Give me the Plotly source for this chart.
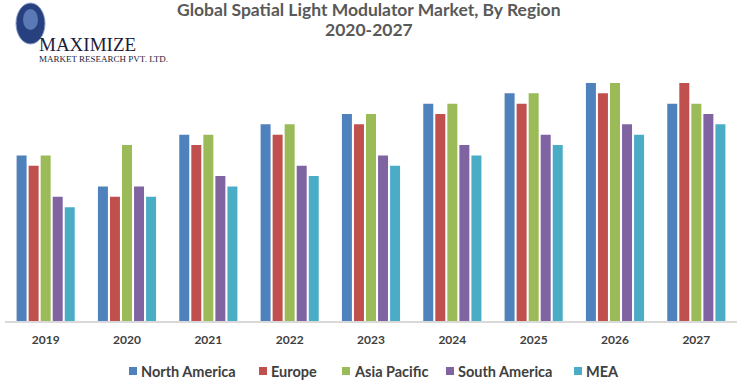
import plotly.graph_objects as go

years = ["2019", "2020", "2021", "2022", "2023", "2024", "2025", "2026", "2027"]
north_america = [16, 13, 18, 19, 20, 21, 22, 23, 21]
europe = [15, 12, 17, 18, 19, 20, 21, 22, 23]
asia_pacific = [16, 17, 18, 19, 20, 21, 22, 23, 21]
south_america = [12, 13, 14, 15, 16, 17, 18, 19, 20]
mea = [11, 12, 13, 14, 15, 16, 17, 18, 19]

series_names = ["North America", "Europe", "Asia Pacific", "South America", "MEA"]
series_values = [north_america, europe, asia_pacific, south_america, mea]
series_colors = ["#4F81BD", "#C0504D", "#9BBB59", "#8064A2", "#4BACC6"]

W, H = 739, 382
L, R, T, B = 5, 2, 70, 61
pw, ph = W - L - R, H - T - B

def px_x(x):
    return (x - L) / pw

def px_y(y):
    return (H - B - y) / ph

fig = go.Figure()
for name, vals, col in zip(series_names, series_values, series_colors):
    fig.add_trace(go.Bar(name=name, x=years, y=vals, marker_color=col,
                         marker_line_width=0, showlegend=False))

font_main = "Lato, 'Open Sans', sans-serif"

fig.update_layout(
    width=W, height=H,
    margin=dict(l=L, r=R, t=T, b=B, autoexpand=False),
    paper_bgcolor="white", plot_bgcolor="white",
    barmode="group", bargap=0.26, bargroupgap=0.17,
    xaxis=dict(showgrid=False, showline=True, linecolor="#D9D9D9", linewidth=2,
               ticks="", automargin=False,
               tickfont=dict(family=font_main, size=12, color="#404040", weight="bold"),
               ticklabelstandoff=7),
    yaxis=dict(range=[0, 24.25], visible=False, showgrid=False, automargin=False),
    showlegend=False,
)

# legend drawn as small squares + labels
legend_square_x = [129, 259, 342, 446, 574]
for name, col, sx in zip(series_names, series_colors, legend_square_x):
    fig.add_shape(type="rect", xref="paper", yref="paper",
                  x0=px_x(sx), x1=px_x(sx + 8), y0=px_y(375), y1=px_y(367),
                  fillcolor=col, line=dict(width=0))
    fig.add_annotation(text="<b>" + name + "</b>", xref="paper", yref="paper",
                       x=px_x(sx + 11), y=px_y(371), xanchor="left", yanchor="middle",
                       showarrow=False, borderpad=0,
                       font=dict(family=font_main, size=14.5, color="#404040"))

# title as two centred lines
title_lines = ["Global Spatial Light Modulator Market, By Region", "2020-2027"]
for i, line in enumerate(title_lines):
    fig.add_annotation(text="<b>" + line + "</b>", xref="paper", yref="paper",
                       x=px_x(369), y=px_y(9 + 21 * i), xanchor="center", yanchor="middle",
                       showarrow=False,
                       font=dict(family=font_main, size=17.5, color="#595959"))

# logo (decorative)
fig.add_shape(type="circle", xref="paper", yref="paper",
              x0=px_x(16), x1=px_x(45), y0=px_y(44), y1=px_y(3),
              fillcolor="#27407F", line=dict(color="#8FA3C8", width=1))
fig.add_shape(type="circle", xref="paper", yref="paper",
              x0=px_x(23), x1=px_x(38), y0=px_y(30), y1=px_y(9),
              fillcolor="#5A79B5", line=dict(width=0))
fig.add_annotation(text="MAXIMIZE", xref="paper", yref="paper",
                   x=px_x(38), y=px_y(44), xanchor="left", yanchor="middle",
                   showarrow=False, borderpad=0,
                   font=dict(family="Liberation Serif, serif", size=19, color="#1C1C3A"))
fig.add_annotation(text="MARKET RESEARCH PVT. LTD.", xref="paper", yref="paper",
                   x=px_x(38), y=px_y(59), xanchor="left", yanchor="middle",
                   showarrow=False, borderpad=0,
                   font=dict(family="Liberation Serif, serif", size=9, color="#1C1C3A"))

fig.write_html("out.html", config={"displayModeBar": False},
               post_script="document.body.style.margin='0px';")
